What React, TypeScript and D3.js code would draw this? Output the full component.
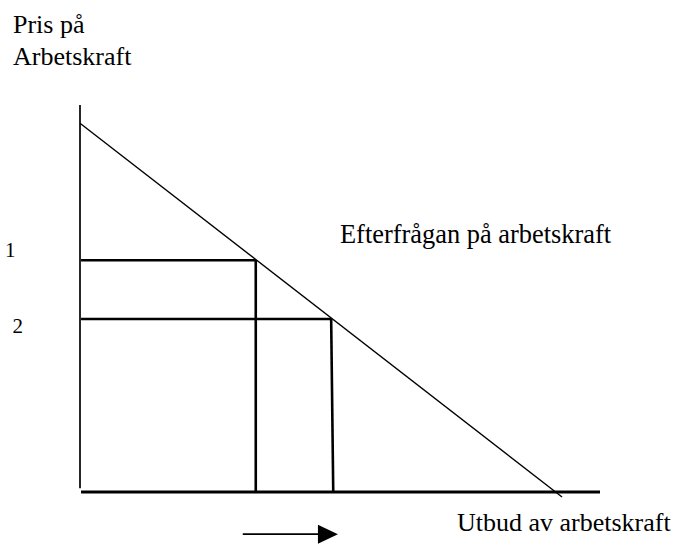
import React from "react";
import * as d3 from "d3";

// Demand curve endpoints (quantity, price) in chart units
const demandQ = [0, 92.7];
const demandP = [95.3, -1.3];

// Price levels and the quantities demanded at them
const levelLabels = ["1", "2"];
const levelP = [59.9, 44.7];
const levelQ = [33.8, 48.3];
const levelQBottom = [33.8, 48.7];

// Axis extents
const axisQMax = 100;
const axisPMax = 100;

// Arrow below the quantity axis (from, to) in quantity units
const arrowQ = [31.3, 49.6];
const arrowP = -10.9;

const yTitle = ["Pris på", "Arbetskraft"];
const xTitle = "Utbud av arbetskraft";
const curveTitle = "Efterfrågan på arbetskraft";

const W = 679;
const H = 544;
const FONT = "'Liberation Serif', 'Times New Roman', serif";

export default function App() {
  const x = d3.scaleLinear().domain([0, 100]).range([80, 600]);
  const y = d3.scaleLinear().domain([0, 100]).range([492, 105]);

  const line = d3
    .line<[number, number]>()
    .x((d) => x(d[0]))
    .y((d) => y(d[1]));

  const demandPts: [number, number][] = demandQ.map((q, i) => [q, demandP[i]]);

  return (
    <svg
      width={W}
      height={H}
      style={{ position: "absolute", left: 0, top: 0, background: "#fff" }}
    >
      <rect x={0} y={0} width={W} height={H} fill="#fff" />
      {/* y title */}
      {yTitle.map((t, i) => (
        <text key={t} x={13} y={33 + i * 32} fontFamily={FONT} fontSize={26} fill="#000">
          {t}
        </text>
      ))}
      {/* axes */}
      <line x1={x(0)} x2={x(0)} y1={y(axisPMax)} y2={y(1)} stroke="#000" strokeWidth={1.7} />
      <line x1={x(0.2)} x2={x(axisQMax)} y1={y(0)} y2={y(0)} stroke="#000" strokeWidth={2.8} />
      {/* level lines */}
      {levelP.map((p, i) => (
        <g key={i}>
          <line x1={x(0.2)} x2={x(levelQ[i])} y1={y(p)} y2={y(p)} stroke="#000" strokeWidth={2.6} />
          <line
            x1={x(levelQ[i])}
            x2={x(levelQBottom[i])}
            y1={y(p)}
            y2={y(0)}
            stroke="#000"
            strokeWidth={2.6}
          />
          <text
            x={i === 0 ? 5 : 12.5}
            y={y(p) - 3 + i * 17}
            fontFamily={FONT}
            fontSize={21}
            fill="#000"
          >
            {levelLabels[i]}
          </text>
        </g>
      ))}
      {/* demand curve */}
      <path d={line(demandPts) || ""} fill="none" stroke="#000" strokeWidth={1.4} />
      <text x={340} y={243} fontFamily={FONT} fontSize={26.4} fill="#000">
        {curveTitle}
      </text>
      {/* x title */}
      <text x={457} y={531} fontFamily={FONT} fontSize={26} fill="#000">
        {xTitle}
      </text>
      {/* arrow */}
      <line
        x1={x(arrowQ[0])}
        x2={x(arrowQ[1]) - 18}
        y1={y(arrowP)}
        y2={y(arrowP)}
        stroke="#000"
        strokeWidth={1.8}
      />
      <path
        d={`M${x(arrowQ[1]) - 20},${y(arrowP) - 9.5} L${x(arrowQ[1])},${y(arrowP)} L${
          x(arrowQ[1]) - 20
        },${y(arrowP) + 9.5} Z`}
        fill="#000"
      />
    </svg>
  );
}
